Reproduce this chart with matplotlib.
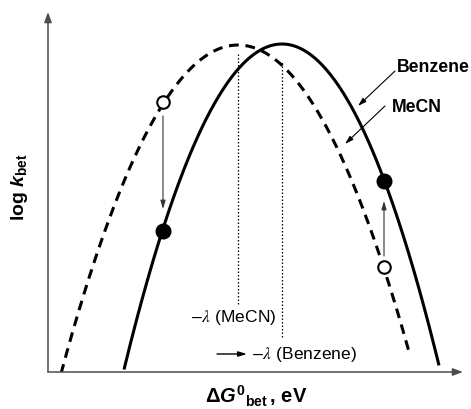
"""
Schematic Marcus plot: log k_bet vs driving force for MeCN and benzene.
"""

import matplotlib.pyplot as plt
import numpy as np

plt.switch_backend("Agg")

plt.rcParams["font.family"] = ["Liberation Sans", "DejaVu Sans"]
plt.rcParams["mathtext.fontset"] = "custom"
plt.rcParams["mathtext.rm"] = "Liberation Sans:bold"
plt.rcParams["mathtext.it"] = "Liberation Sans:italic:bold"
plt.rcParams["mathtext.bf"] = "Liberation Sans:bold"

# curve parameters (arbitrary units)
solvents = ["MeCN", "Benzene"]
reorg_energy = [2.25, 1.81]          # lambda, peak sits at dG = -lambda
log_k_max = [3.27, 3.28]
curve_width = 0.4237                 # log k = max - (dG + lam)^2 / (w * lam)
dg_start = [-4.02, -3.39]
dg_end = [-0.53, -0.24]

# observed points: open (MeCN) move onto filled (benzene)
point_dg = [-3.00, -0.79]
open_log_k = [2.70, 1.05]
filled_log_k = [1.41, 1.91]
arrow_from = [2.56, 1.16]
arrow_to = [1.63, 1.71]

# dotted -lambda markers
marker_top = [3.20, 3.11]
marker_bottom = [0.68, 0.35]


def _marcus(dg, lam, top):
    return top - (dg + lam) ** 2 / (curve_width * lam)


def main():
    fig = plt.figure(figsize=(4.71, 4.10), dpi=100)
    ax = fig.add_axes([48 / 471, 37 / 410, 415 / 471, 360 / 410])
    ax.set_xlim(-4.15, 0)
    ax.set_ylim(0, 3.60)
    ax.axis("off")

    # axes drawn as arrows
    arrow_kw = dict(arrowstyle="-|>,head_length=0.6,head_width=0.22",
                    lw=1.1, color="0.3", shrinkA=0, shrinkB=0)
    ax.annotate("", xy=(0, 1), xytext=(0, 0), xycoords="axes fraction",
                arrowprops=arrow_kw)
    ax.annotate("", xy=(1, 0), xytext=(0, 0), xycoords="axes fraction",
                arrowprops=arrow_kw)

    styles = {"MeCN": dict(ls=(0, (3.2, 2.2))), "Benzene": dict(ls="-")}
    for name, lam, top, g0, g1 in zip(solvents, reorg_energy, log_k_max,
                                      dg_start, dg_end):
        dg = np.linspace(g0, g1, 300)
        ax.plot(dg, _marcus(dg, lam, top), color="black", lw=2.2,
                solid_capstyle="butt", **styles[name])

    for lam, y0, y1 in zip(reorg_energy, marker_bottom, marker_top):
        ax.plot([-lam, -lam], [y0, y1], color="black", lw=0.9,
                ls=(0, (1.2, 1.6)))

    for x, y0, y1 in zip(point_dg, arrow_from, arrow_to):
        ax.annotate("", xy=(x, y1), xytext=(x, y0),
                    arrowprops=dict(arrowstyle="-|>,head_length=0.5,head_width=0.15",
                                    lw=0.8, color="0.2", shrinkA=0, shrinkB=0))

    ax.plot(point_dg, filled_log_k, "o", ms=10.5, color="black", zorder=5)
    ax.plot(point_dg, open_log_k, "o", ms=9, mfc="white", mec="black",
            mew=1.5, zorder=5)

    # -lambda labels
    ax.text(-1.87, 0.55, r"$-\lambda$ (MeCN)", ha="right", va="center",
            fontsize=12.5, math_fontfamily="stix")
    ax.annotate("", xy=(-2.16, 0.18), xytext=(-2.46, 0.18),
                arrowprops=dict(arrowstyle="-|>,head_length=0.5,head_width=0.15",
                                lw=1.0, color="black", shrinkA=0, shrinkB=0))
    ax.text(-2.12, 0.18, r"$-\lambda$ (Benzene)", ha="left", va="center",
            fontsize=12.5, math_fontfamily="stix")

    # curve labels
    ax.text(-0.66, 3.05, "Benzene", ha="left", va="center", fontsize=12.7,
            fontweight="bold")
    ax.text(-0.71, 2.65, "MeCN", ha="left", va="center", fontsize=12.7,
            fontweight="bold")
    label_kw = dict(arrowstyle="-|>,head_length=0.5,head_width=0.15",
                    lw=0.8, color="black", shrinkA=0, shrinkB=0)
    ax.annotate("", xy=(-1.05, 2.66), xytext=(-0.68, 3.01), arrowprops=label_kw)
    ax.annotate("", xy=(-1.18, 2.28), xytext=(-0.78, 2.66), arrowprops=label_kw)

    fig.text(256 / 471, 1 - 396 / 410, r"$\Delta G^{0}{}_{\mathrm{bet}}\,$, eV",
             ha="center", va="center", fontsize=14.5, fontweight="bold")
    fig.text(20 / 471, 1 - 187 / 410, r"log $k_{\mathrm{bet}}$", rotation=90,
             ha="center", va="center", fontsize=14, fontweight="bold")

    fig.savefig("out.png", dpi=100)
    plt.close(fig)


if __name__ == "__main__":
    main()
